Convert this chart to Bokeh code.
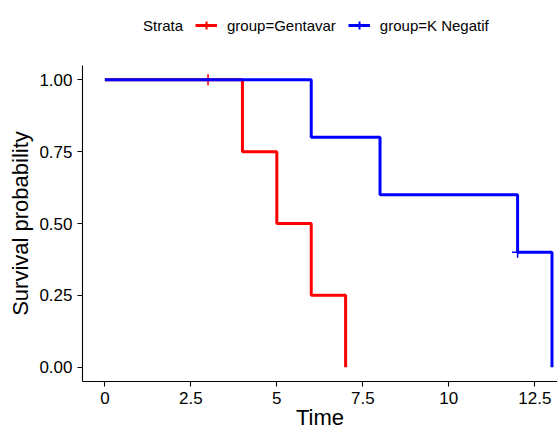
from bokeh.plotting import figure
from bokeh.models import Range1d, FixedTicker, Legend, LegendItem
from bokeh.layouts import column
from bokeh.embed import file_html
from bokeh.resources import INLINE

# ---- data ----
legend_title = "Strata"
strata_labels = ["group=Gentavar", "group=K Negatif"]
strata_colors = ["#FF0000", "#0000FF"]
gent_time = [0, 4, 5, 6, 7]
gent_surv = [1.0, 0.75, 0.5, 0.25, 0.0]
gent_cens_time = [3]
gent_cens_surv = [1.0]
kneg_time = [0, 6, 8, 12, 13]
kneg_surv = [1.0, 0.8, 0.6, 0.4, 0.0]
kneg_cens_time = [12]
kneg_cens_surv = [0.4]
x_ticks = [0, 2.5, 5, 7.5, 10, 12.5]
x_tick_labels = ["0", "2.5", "5", "7.5", "10", "12.5"]
y_ticks = [0, 0.25, 0.5, 0.75, 1.0]
y_tick_labels = ["0.00", "0.25", "0.50", "0.75", "1.00"]

FONT = "Liberation Sans"

series = [
    (gent_time, gent_surv, gent_cens_time, gent_cens_surv),
    (kneg_time, kneg_surv, kneg_cens_time, kneg_cens_surv),
]

# ---- main plot ----
p = figure(frame_width=475, frame_height=316, output_backend="svg", toolbar_location=None,
           x_range=Range1d(-0.65, 13.16), y_range=Range1d(-0.05, 1.05),
           min_border_left=82, min_border_right=0, min_border_top=0, min_border_bottom=47)
p.outline_line_color = None
p.xgrid.visible = False
p.ygrid.visible = False
p.background_fill_color = "white"
p.border_fill_color = "white"

for (t, s, ct, cs), col in zip(series, strata_colors):
    p.step(t, s, mode="after", line_color=col, line_width=3)
    p.scatter(ct, cs, marker="cross", size=11, line_color=col, line_width=1.6)

for ax in (p.xaxis[0], p.yaxis[0]):
    ax.axis_line_color = "black"
    ax.axis_line_width = 1.1
    ax.major_tick_line_color = "black"
    ax.major_tick_line_width = 1.1
    ax.major_tick_out = 5
    ax.major_tick_in = 0
    ax.minor_tick_line_color = None
    ax.major_label_text_font = FONT
    ax.major_label_text_font_size = "17px"
    ax.major_label_text_color = "black"
    ax.major_label_standoff = 5
    ax.axis_label_text_font = FONT
    ax.axis_label_text_font_size = "22px"
    ax.axis_label_text_font_style = "normal"
    ax.axis_label_text_color = "black"
p.xaxis.axis_label_standoff = -2
p.yaxis.axis_label_standoff = 3

p.xaxis.ticker = FixedTicker(ticks=x_ticks)
p.xaxis.major_label_overrides = dict(zip(x_ticks, x_tick_labels))
p.yaxis.ticker = FixedTicker(ticks=y_ticks)
p.yaxis.major_label_overrides = dict(zip(y_ticks, y_tick_labels))
p.xaxis.axis_label = "Time"
p.yaxis.axis_label = "Survival probability"

# ---- legend strip above the panel (its own renderers lie outside its view) ----
lg = figure(frame_width=557, frame_height=65, output_backend="svg", toolbar_location=None,
            x_range=Range1d(100, 101), y_range=Range1d(100, 101),
            x_axis_location=None, y_axis_location=None,
            min_border_left=0, min_border_right=0, min_border_top=0, min_border_bottom=0)
lg.outline_line_color = None
lg.xgrid.visible = False
lg.ygrid.visible = False
lg.border_fill_color = "white"
lg.background_fill_color = "white"

title_r = lg.scatter(gent_cens_time, gent_cens_surv, marker="cross", size=1,
                     line_alpha=0, fill_alpha=0)
items = [LegendItem(label=legend_title, renderers=[title_r])]
for (t, s, ct, cs), lab, col in zip(series, strata_labels, strata_colors):
    ln = lg.line(t, s, line_color=col, line_width=3)
    cr = lg.scatter(ct, cs, marker="cross", size=11, line_color=col, line_width=2)
    items.append(LegendItem(label=lab, renderers=[ln, cr]))

legend = Legend(items=items, orientation="horizontal", location=(111, 30),
                padding=0, margin=0, spacing=12, glyph_width=22, glyph_height=20,
                label_standoff=10, label_height=20,
                label_text_font=FONT, label_text_font_size="15px",
                label_text_color="black", border_line_color=None,
                background_fill_alpha=0)
lg.add_layout(legend, "center")

layout = column(lg, p, spacing=0)
open("out.html", "w").write(file_html(layout, INLINE))
